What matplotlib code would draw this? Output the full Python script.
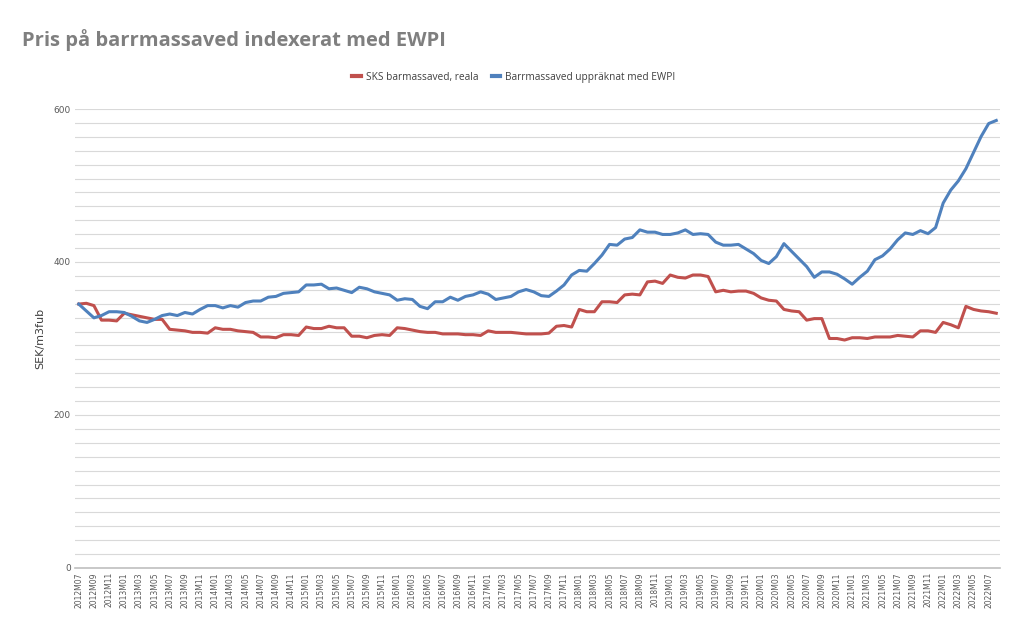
import numpy as np
import matplotlib
matplotlib.use("Agg")
import matplotlib.pyplot as plt
from matplotlib.ticker import MultipleLocator

# manader 2012M07 .. 2022M08
months = []
y, m = 2012, 7
while (y, m) <= (2022, 8):
    months.append("%dM%02d" % (y, m))
    m += 1
    if m > 12:
        y, m = y + 1, 1

sks_reala = [
    345, 346, 343, 324, 324, 323, 333, 331, 329, 327, 325, 325,
    312, 311, 310, 308, 308, 307, 314, 312, 312, 310, 309, 308,
    302, 302, 301, 305, 305, 304, 315, 313, 313, 316, 314, 314,
    303, 303, 301, 304, 305, 304, 314, 313, 311, 309, 308, 308,
    306, 306, 306, 305, 305, 304, 310, 308, 308, 308, 307, 306,
    306, 306, 307, 316, 317, 315, 338, 335, 335, 348, 348, 347,
    357, 358, 357, 374, 375, 372, 383, 380, 379, 383, 383, 381,
    361, 363, 361, 362, 362, 359, 353, 350, 349, 338, 336, 335,
    324, 326, 326, 300, 300, 298, 301, 301, 300, 302, 302, 302,
    304, 303, 302, 310, 310, 308, 321, 318, 314, 342, 338, 336,
    335, 333,
]

ewpi = [
    345, 336, 327, 330, 335, 335, 334, 329, 323, 321, 325, 330,
    332, 330, 334, 332, 338, 343, 343, 340, 343, 341, 347, 349,
    349, 354, 355, 359, 360, 361, 370, 370, 371, 365, 366, 363,
    360, 367, 365, 361, 359, 357, 350, 352, 351, 342, 339, 348,
    348, 354, 350, 355, 357, 361, 358, 351, 353, 355, 361, 364,
    361, 356, 355, 362, 370, 383, 389, 388, 398, 409, 423, 422,
    430, 432, 442, 439, 439, 436, 436, 438, 442, 436, 437, 436,
    426, 422, 422, 423, 417, 411, 402, 398, 407, 424, 414, 404,
    394, 380, 387, 387, 384, 378, 371, 380, 388, 403, 408, 417,
    429, 438, 436, 441, 437, 445, 477, 494, 506, 522, 543, 564,
    581, 585,
]

x = np.arange(len(months))

fig = plt.figure(figsize=(10.24, 6.33), dpi=100, facecolor="white")
ax = fig.add_axes([0.0732, 0.1027, 0.9034, 0.7251])

ax.plot(x, sks_reala, color="#c0504d", lw=2.2, label="SKS barmassaved, reala",
        solid_joinstyle="round")
ax.plot(x, ewpi, color="#4f81bd", lw=2.2, label="Barrmassaved uppräknat med EWPI",
        solid_joinstyle="round")

ax.set_xlim(-0.5, len(months) - 0.5)
ax.set_ylim(0, 600)
ax.yaxis.set_major_locator(MultipleLocator(200))
ax.yaxis.set_minor_locator(MultipleLocator(200 / 11))
ax.grid(True, which="both", axis="y", color="#d9d9d9", lw=0.8)
ax.set_axisbelow(True)

ax.set_xticks(x[::2])
ax.set_xticklabels(months[::2], rotation=90, fontsize=5.5, color="#595959",
                   family="DejaVu Sans")
ax.tick_params(axis="x", length=0, pad=3)
ax.tick_params(axis="y", which="both", length=0, labelsize=6.5,
               labelcolor="#595959", pad=3)

for s in ["top", "left", "right"]:
    ax.spines[s].set_visible(False)
ax.spines["bottom"].set_color("#bfbfbf")
ax.spines["bottom"].set_linewidth(1.2)

ax.set_ylabel("SEK/m3fub", fontsize=8, color="#404040", labelpad=6)

fig.text(0.0215, 0.937, "Pris på barrmassaved indexerat med EWPI",
         fontsize=14.5, fontweight="bold", color="#7f7f7f", family="Open Sans",
         ha="left", va="center")

leg = fig.legend(loc="center", bbox_to_anchor=(0.502, 0.878), ncol=2,
                 frameon=False, handlelength=0.8,
                 handletextpad=0.5, columnspacing=1.4,
                 prop={"family": "Open Sans", "size": 7.3})
for t in leg.get_texts():
    t.set_color("#404040")
for h in leg.get_lines():
    h.set_linewidth(3)

fig.savefig("out.png", dpi=100, facecolor="white")
